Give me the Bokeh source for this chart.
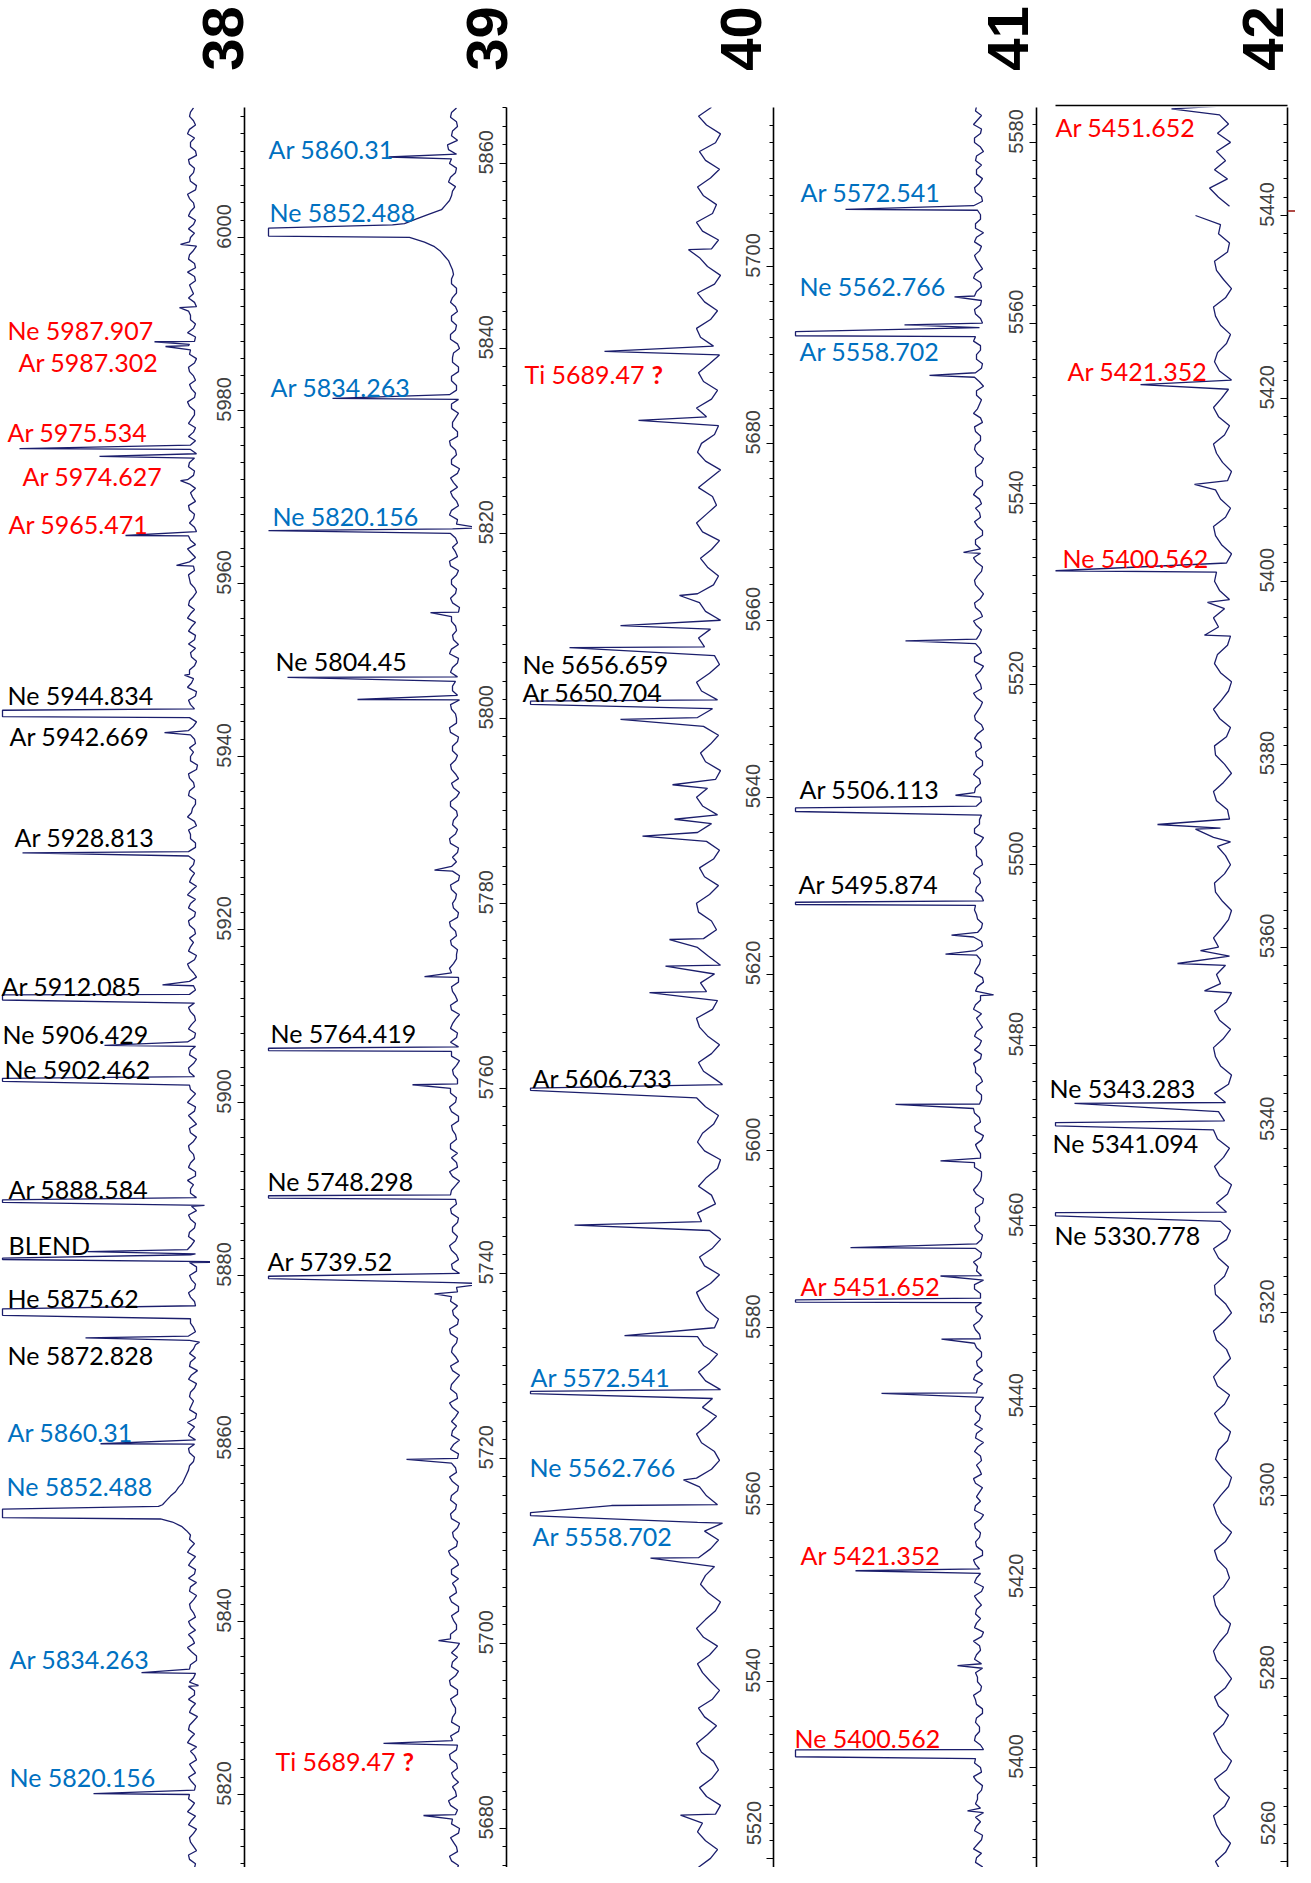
import math
import numpy as np
from bokeh.plotting import figure
from bokeh.models import (Range1d, LinearAxis, SingleIntervalTicker, ColumnDataSource, Span,
                          PrintfTickFormatter)
from bokeh.layouts import row, column
from bokeh.embed import file_html
from bokeh.resources import INLINE
from bokeh.core.properties import value

NAN = float("nan")

# ======================= DATA =======================
orders = ["38", "39", "40", "41", "42"]
wl_top = [6015.03, 5866.05, 5717.98, 5583.88, 5451.81]
wl_bottom = [5811.56, 5675.78, 5518.97, 5388.93, 5259.34]
grid_start = [5811, 5675, 5518, 5388, 5259]   # samples on whole Angstroms
half_start = [5811.5, 5675.5, None, 5388.5, None]   # extra samples on half Angstroms

# order 38 : 5811 .. 6015
flux_38 = [2,-3,4,-1,3,-4,1,5,-2,3, -3,4,0,-4,2,5,-2,3,-5,1, 4,-2,3,-3,2,-4,5,0,-3,4,
           -1,3,-4,2,4,-3,1,5,-2,2, 11,190,190,26,17,10,6,3,-2,4, -3,2,5,-4,1,3,-2,4,-5,2,
           3,-3,4,-1,2,190,-2,4,-3,3, -4,190,5,-2,3,-3,4,1,-4,2, 5,-3,2,-1,4,-4,3,0,-2,5,
           -3,3,-2,4,-4,2,5,-3,1,-2, 4,190,-3,3,-1,5,-4,2,3,-2, 4,-3,2,5,-4,1,3,-2,4,-3,
           2,-4,5,0,-3,3,-1,4,-5,2, 3,-2,4,-4,190,2,-3,5,-1,3, -4,2,4,-3,1,5,-2,3,-4,2,
           4,-1,-3,5,2,-4,3,-2,4,0, -3,5,-2,3,-4,2,4,-3,1,-2, 5,-3,3,-1,4,-4,2,-2,5,-3,
           2,-4,4,1,-3,5,-2,3,-4,2, 4,-3,2,-1,5,-4,3,-2,4,-3, 2,5,-3,3,-1]
half_38 = [-2,3,-4,2,-1,4,-3,1,4,-2, 1,-3,3,-2,-4,2,4,-1,3,-3, -2,4,-1,3,-4,1,-2,4,2,-3,
           2,-1,3,-4,-2,4,-3,2,3,6, 20,190,30,22,14,8,4,-1,3,-2, 4,-2,-3,3,-1,2,-4,1,3,-3,
           -1,3,-3,2,190,-3,2,-2,1,-4, 3,-3,1,4,-2,2,-4,190,2,-1, -3,4,-2,3,-1,2,-4,4,-3,1,
           2,190,3,-1,3,-3,-2,4,-3,2, -2,3,-1,-4,3,-2,4,-1,-3,3, -2,4,-3,1,3,-2,-1,4,-3,2,
           4,-2,1,-3,4,-2,3,-4,2,-1, -3,2,-1,3,-2,4,-4,1,3,-2, 1,-3,-2,4,-3,2,4,-1,-2,3,
           -2,3,1,-3,4,-2,-1,3,-3,2, 3,-1,4,-2,2,-3,-1,4,-2,3, -2,1,-3,3,-2,3,4,-3,-1,2,
           4,-2,-1,3,-2,-3,4,-1,3,-2, -1,4,-2,3,-3,2,-1,3,-4,2, -2,3,-1,2]
peak_wl_38 = [5999.2, 5991.9, 5987.95, 5987.65, 5987.4, 5975.6, 5974.7, 5971.9, 5965.55, 5962.1,
              5949.4, 5945.35, 5944.6, 5942.75, 5928.85, 5913.6, 5912.45, 5911.85, 5906.6,
              5902.8, 5902.45, 5888.75, 5888.45, 5888.1, 5882.75, 5882.4, 5881.85, 5881.55,
              5876.15, 5875.4, 5872.8, 5872.3, 5860.55, 5853.3, 5851.85, 5834.1, 5832.6, 5820.1]
peak_fl_38 = [12, 13, 38, 3, 27, 173, 93, 12, 67, 16,
              8, 190, 190, 28, 170, 30, 190, 190, 88,
              190, 190, 190, 190, -12, 105, 2, 190, -60,
              190, 190, 107, -7, 92, 34, 32, 51, -6, 99]

# order 39 : 5675 .. 5866
flux_39 = [3,-4,5,-2,4,-5,2,-3,6,-1, -4,3,-2,5,-3,4,-5,2,-1,4, -3,5,-4,2,3,-5,4,-2,3,-4,
           5,-1,-4,3,-2,6,-3,2,-5,4, -2,3,-4,5,-1,-3,4,-5,2,3, -4,5,-2,3,-5,4,-1,2,-3,5,
           -4,2,4,-3,1,-5,3,-2,5,-3, 2,-4,4,-1,3,-5,5,-2,-3,4, -1,3,-4,5,-2,4,-3,2,-5,3,
           4,-3,2,-5,4,-1,3,-4,5,-2, -3,4,-1,5,-4,2,-2,4,-5,3, 2,-4,5,-3,1,-2,4,-5,3,-1,
           4,-3,2,-4,5,-2,3,-5,2,-1, 4,-3,5,-4,2,-1,3,-5,4,-2, 3,-4,5,-1,-3,4,-2,5,-4,2,
           -3,4,-5,3,-1,5,-3,2,-4,3, 5,-2,3,-4,2,-5,4,-1,3,-3, 4,-2,3,1,4,10,20,45,186,38,
           13,5,2,6,-1,5,-2,7,3,-3, 4,-2]
half_39 = [-2,3,-3,1,-4,3,-1,4,-2,2, 1,-3,4,-2,2,-4,3,-1,2,-3, 4,-1,3,-3,-2,4,-2,1,-4,3,
           -2,2,3,-4,4,-2,1,-3,3,-1, 4,-3,2,-2,3,-4,1,3,-2,-1, 2,-3,4,-1,2,-4,3,-2,4,-3,
           1,-3,3,-2,186,2,-4,3,-1,2, -3,3,-2,4,-1,2,-3,3,4,-2, 2,-4,3,-1,4,-3,1,-2,3,-4,
           -2,4,-1,3,-3,2,-4,3,1,-2, 3,-2,4,-3,1,-1,3,-4,2,-2, -3,4,-1,2,-3,4,-2,1,-4,3,
           -1,2,-3,4,-2,-1,4,-3,2,-3, 2,-4,3,1,-2,3,-4,2,-1,3, -2,4,-3,2,-1,2,-3,3,-2,4,
           1,-3,3,-2,4,-3,2,-1,3,-4, -2,3,-4,2,1,-3,4,-2,3,-1, 2,-2,3,2,6,14,30,186,50,26,
           9,3,-1,4,-2,3,6,-3,2,-2, 3]
peak_wl_39 = [5860.7, 5853.35, 5852.15, 5834.6, 5820.6, 5820.3, 5811.45, 5804.45, 5802.05,
              5783.6, 5772.1, 5764.35, 5764.1, 5760.4, 5748.4, 5748.15, 5739.7, 5739.45,
              5738.9, 5737.8, 5719.9, 5700.3, 5689.2, 5681.4]
peak_fl_39 = [66, 62, 186, 122, -26, 186, 24, 167, 97,
              20, 30, 186, 186, 42, 186, 186, 186, 186,
              -30, 20, 48, 16, 71, 31]

# order 40 : 5518 .. 5718
flux_40 = [4,10,-2,-9,3,11,6,-7,-12,2, 9,-3,-10,-5,7,12,1,-8,4,10, -4,-11,-2,6,11,-1,-9,5,12,3,
           -7,-12,0,8,3,-6,10,-2,-10,4, 11,178,-9,2,9,12,-3,-11,-6,7, 12,1,-8,6,-4,-12,3,10,-1,-9,
           5,11,-6,-10,2,8,12,-2,-11,4, 9,-4,-12,-1,7,11,-7,-3,10,2, -9,-12,4,11,6,-5,-10,3,12,178,
           -8,5,10,-3,-11,1,9,12,-4,-9, 2,8,-6,-12,0,11,5,-8,-3,10, 12,-1,-10,4,9,-5,-11,2,11,-3,
           -9,6,12,1,-7,-12,3,8,-2,-10, 5,11,-4,-9,7,12,-1,-11,-6,4, 10,-2,-12,3,9,11,-5,-10,1,8,
           -3,-11,6,12,2,-8,-4,10,-1,-12, 3,11,7,-6,-10,2,12,-3,-9,5, 10,-1,-11,-5,8,12,-2,-9,4,11,
           -6,-12,1,9,-3,-10,6,12,-4,-8, 5,11,-2,-11,3,9,-7,-12,2,10, -3]
half_40 = []
peak_wl_40 = [5701.9, 5690.4, 5682.6, 5662.8, 5659.4, 5656.9, 5650.85, 5650.5, 5648.8,
              5641.4, 5637.5, 5635.6, 5623.9, 5620.9, 5617.9, 5607.5, 5607.1, 5606.85,
              5591.6, 5579.1, 5572.8, 5572.55, 5562.8, 5559.9, 5559.1, 5558.75, 5557.9,
              5553.95, 5524.9]
peak_fl_40 = [20, 104, 70, 29, 88, 139, 178, 178, 88,
              36, 34, 66, 39, 43, 59, -14, 178, 178,
              134, 84, 178, 178, 25, 97, 178, 178, -14,
              58, 28]

# order 41 : 5388 .. 5584
flux_41 = [3,-4,2,5,-3,4,-2,-5,3,1, -4,5,-2,3,-5,4,-1,3,-4,2, 5,-3,1,-4,4,-2,5,-5,2,3,
           -3,4,-5,2,-1,5,-4,3,-2,4, -5,3,2,-4,5,-1,-3,4,-5,2, 4,-2,3,-5,1,5,-4,2,-3,4,
           -1,5,-4,3,-2,4,-5,2,5,-3, 2,-4,4,-1,3,-5,5,-2,-3,4, -2,3,-5,4,-1,5,-3,2,-4,3,
           5,-3,-1,4,-4,2,5,-2,3,-5, 4,-1,2,-4,5,-3,1,4,-5,3, -2,5,-4,2,3,-5,4,-1,183,-3,
           4,-2,5,-4,2,-3,4,-5,3,1, -4,5,-2,3,-5,4,-1,2,-3,5, -2,4,-5,3,1,-4,5,-2,3,-4,
           4,-1,-3,5,-4,2,3,-5,4,-2, 3,-4,5,-1,2,-5,4,-3,2,-2, 5,183,-4,3,-2,4,-3,5,-4,2,
           -1,4,-5,3,-2,5,-3,4,-4,2, 3,-5,4,-2,5,-3,2]
half_41 = [-2,3,-3,1,-4,2,3,-2,1,-3, 2,-3,4,183,-2,3,-1,2,-4,3, -2,1,3,-3,2,-1,-3,4,-2,2,
           1,-3,4,-2,3,-4,2,-1,3,-2, 4,-2,-1,3,-3,2,-2,1,3,-4, -1,3,-2,2,-4,3,1,-3,2,-2,
           3,-1,2,-3,-2,4,-3,1,-2,3, -3,2,-1,3,-4,2,1,-3,4,-2, 1,-3,3,-2,4,-1,-3,2,-2,3,
           -2,4,-3,2,-1,-3,3,-2,1,-4, 2,-2,3,-3,1,-4,2,3,-3,2, -1,3,-3,2,-2,4,-1,-3,2,-2,
           3,-1,2,-4,3,-2,1,-3,4,-2, 2,-3,1,-2,4,-3,3,-1,2,-4, 3,-2,-1,4,-3,2,-2,3,-4,1,
           -2,3,-1,2,-4,3,-3,1,3,-2, 4,-2,1,-3,2,-1,3,-4,2,-2, 3,-1,-2,4,-3,2,-2,3,-1,4,
           -3,2,3,-2,1,-4,3,-1,2,-3, 2,-2,4,-3,1,3]
peak_wl_41 = [5572.6, 5562.9, 5559.8, 5559.05, 5558.6, 5554.2, 5534.6, 5524.8, 5507.7,
              5506.3, 5505.9, 5495.85, 5495.6, 5492.2, 5490.1, 5485.6, 5473.45, 5467.2,
              5457.6, 5454.45, 5451.8, 5451.55, 5447.45, 5441.45, 5421.8, 5411.3, 5401.95,
              5401.2, 5395.2]
peak_fl_41 = [133, 24, 74, 183, 183, 49, 15, 73, 23,
              183, 183, 183, 183, 27, 33, -15, 83, 38,
              128, 38, 183, 183, 37, 97, 123, 21, 183,
              183, 11]
red_mark_wl_41 = 5570.8

# order 42 : 5259 .. 5452
flux_42 = [2,7,-3,-8,1,6,9,-2,-7,3, 8,-4,-9,0,5,9,-1,-6,4,8, -3,-9,-2,6,9,3,-5,-8,2,7,
           9,-1,-7,-4,5,8,-3,-9,1,6, 9,2,-6,-9,0,7,4,-5,-8,3, 8,-2,-7,5,9,1,-8,-4,6,9,
           -1,-9,-3,7,8,-2,-6,4,9,-4, -8,2,-4,6,-5,-9,3,8,-1,-7, 5,9,-2,4,-3,8,-6,-9,2,7,
           9,-1,-8,3,8,-4,-9,2,6,-3, -7,4,9,1,-6,-9,0,7,8,-2, -8,-3,5,9,2,-7,-5,6,9,-1,
           -9,-2,7,8,-4,-8,3,9,1,-6, -9,2,8,5,-5,-8,4,9,-2,-7, 3,8,6,-4,-9,1,7,9,-3,-8,
           2,7,-5,-9,0,6,9,-2,-7,4, 9,1,-6,-9,3,8,5,-4,-8,2, 7,9,-3,-9,-1,6,8,-5,-7,4,
           2,27,-7,4,13,-5,8,-3,6,-8, 5,-6,3,-4]
half_42 = []
peak_wl_42 = [5451.65, 5440.5, 5421.5, 5410.6, 5401.15, 5397.7, 5394.1, 5373.4, 5372.9,
              5371.5, 5359.6, 5358.2, 5355.2, 5342.9, 5340.8, 5340.45, 5330.95, 5330.6]
peak_fl_42 = [51, NAN, 82, 28, 167, 15, 18, 65, 27,
              -8, 22, 45, 18, 148, 167, 167, 167, 167]
red_mark_wl_42 = 5440.5

# line identifications (kind: plain / overlap / flag / flagmark)
ids_38 = ["Ne 5987.907", "Ar 5987.302", "Ar 5975.534", "Ar 5974.627", "Ar 5965.471",
          "Ne 5944.834", "Ar 5942.669", "Ar 5928.813", "Ar 5912.085", "Ne 5906.429",
          "Ne 5902.462", "Ar 5888.584", "BLEND", "He 5875.62", "Ne 5872.828",
          "Ar 5860.31", "Ne 5852.488", "Ar 5834.263", "Ne 5820.156"]
kind_38 = ["flag"] * 5 + ["plain"] * 10 + ["overlap"] * 4
ids_39 = ["Ar 5860.31", "Ne 5852.488", "Ar 5834.263", "Ne 5820.156", "Ne 5804.45",
          "Ne 5764.419", "Ne 5748.298", "Ar 5739.52", "Ti 5689.47", "?"]
kind_39 = ["overlap"] * 4 + ["plain"] * 4 + ["flag", "flagmark"]
ids_40 = ["Ti 5689.47", "?", "Ne 5656.659", "Ar 5650.704", "Ar 5606.733",
          "Ar 5572.541", "Ne 5562.766", "Ar 5558.702"]
kind_40 = ["flag", "flagmark", "plain", "plain", "plain", "overlap", "overlap", "overlap"]
ids_41 = ["Ar 5572.541", "Ne 5562.766", "Ar 5558.702", "Ar 5506.113", "Ar 5495.874",
          "Ar 5451.652", "Ar 5421.352", "Ne 5400.562"]
kind_41 = ["overlap"] * 3 + ["plain"] * 2 + ["flag"] * 3
ids_42 = ["Ar 5451.652", "Ar 5421.352", "Ne 5400.562", "Ne 5343.283", "Ne 5341.094", "Ne 5330.778"]
kind_42 = ["flag"] * 3 + ["plain"] * 3

# ======================= LAYOUT (page pixels) =======================
PAGE = 8
FRAME_TOP = 115
FRAME_BOTTOM = 1875
FRAME_H = FRAME_BOTTOM - FRAME_TOP
frame_left = [8, 252, 514, 781, 1044]
frame_right = [218, 480, 747, 1010, 1261]
end_frame = (1295, 1303)
base_x = [200, 462, 716, 986, 1230]          # continuum position of each spectrum

lab_x_38 = [15, 26, 15, 30, 16, 15, 17, 22, 9, 10, 12, 16, 16, 15, 15, 15, 14, 17, 17]
lab_y_38 = [337, 369, 439, 483, 531, 702, 743, 844, 993, 1041, 1076, 1196, 1252, 1305, 1362,
            1439, 1493, 1666, 1784]
lab_x_39 = [276, 277, 278, 280, 283, 278, 275, 275, 283, 410]
lab_y_39 = [156, 219, 394, 523, 668, 1040, 1188, 1268, 1768, 1768]
lab_x_40 = [532, 659, 530, 530, 540, 538, 537, 540]
lab_y_40 = [381, 381, 671, 699, 1085, 1384, 1474, 1543]
lab_x_41 = [808, 807, 807, 807, 806, 808, 808, 802]
lab_y_41 = [199, 293, 358, 796, 891, 1293, 1562, 1745]
lab_x_42 = [1063, 1075, 1070, 1057, 1060, 1062]
lab_y_42 = [134, 378, 565, 1095, 1150, 1242]

title_x = [230, 494, 748, 1015, 1270]
title_y = 46

KIND_COLOR = {"plain": "#000000", "overlap": "#0070C0", "flag": "#FF0000", "flagmark": "#FF0000"}
SPEC_COLOR = "#1b1e6c"
MARK_COLOR = "#b04a45"

panels = [
    (flux_38, half_38, peak_wl_38, peak_fl_38, ids_38, kind_38, lab_x_38, lab_y_38),
    (flux_39, half_39, peak_wl_39, peak_fl_39, ids_39, kind_39, lab_x_39, lab_y_39),
    (flux_40, half_40, peak_wl_40, peak_fl_40, ids_40, kind_40, lab_x_40, lab_y_40),
    (flux_41, half_41, peak_wl_41, peak_fl_41, ids_41, kind_41, lab_x_41, lab_y_41),
    (flux_42, half_42, peak_wl_42, peak_fl_42, ids_42, kind_42, lab_x_42, lab_y_42),
]


def wl_at(i, y_px):
    return wl_top[i] - (y_px - FRAME_TOP) * (wl_top[i] - wl_bottom[i]) / FRAME_H


def make_axis(rng_name):
    ax = LinearAxis(y_range_name=rng_name,
                    ticker=SingleIntervalTicker(interval=20, num_minor_ticks=10),
                    formatter=PrintfTickFormatter(format="\u00a0\u00a0\u00a0\u00a0%d"))
    ax.axis_line_color = "black"
    ax.axis_line_width = 1.6
    ax.major_tick_line_color = "black"
    ax.major_tick_line_width = 1.2
    ax.minor_tick_line_color = "black"
    ax.major_tick_out = 7
    ax.major_tick_in = 0
    ax.minor_tick_out = 4
    ax.minor_tick_in = 0
    ax.major_label_orientation = "vertical"
    ax.major_label_standoff = 2
    ax.major_label_text_font = "Liberation Sans"
    ax.major_label_text_font_size = "20px"
    ax.major_label_text_color = "#404040"
    return ax


figs = []
n = len(orders)
for i in range(n + 1):
    if i < n:
        canvas_left = frame_left[0] if i == 0 else frame_right[i - 1]
        fl, fr, bx = frame_left[i], frame_right[i], base_x[i]
        ri = i
    else:
        canvas_left = frame_right[n - 1]
        fl, fr = end_frame
        bx = fr
        ri = n - 1
    p = figure(width=fr - canvas_left, height=FRAME_H,
               x_range=Range1d(bx - fl, bx - fr),
               y_range=Range1d(wl_bottom[ri], wl_top[ri]),
               x_axis_location=None, y_axis_location=None,
               toolbar_location=None, output_backend="svg",
               min_border_left=fl - canvas_left, min_border_right=0,
               min_border_top=0, min_border_bottom=0,
               outline_line_color=None, background_fill_color="white",
               border_fill_color="white")
    p.grid.visible = False

    if i < n:
        flux, half, pwl, pfl, ids, kinds, lx, ly = panels[i]
        gwl = grid_start[i] + np.arange(len(flux), dtype=float)
        hwl = (half_start[i] + np.arange(len(half), dtype=float)) if half else np.array([])
        wl = np.concatenate([gwl, hwl, np.array(pwl, dtype=float)])
        fx = np.concatenate([np.array(flux, dtype=float), np.array(half, dtype=float),
                             np.array(pfl, dtype=float)])
        order = np.argsort(-wl, kind="stable")
        p.line(x=fx[order], y=wl[order], line_color=SPEC_COLOR, line_width=1.3)

        normal = [k for k in range(len(ids)) if kinds[k] != "flagmark"]
        src = ColumnDataSource(dict(
            x=[bx - lx[k] for k in normal],
            y=[wl_at(i, ly[k]) for k in normal],
            text=[ids[k] for k in normal],
            color=[KIND_COLOR[kinds[k]] for k in normal]))
        p.text(x="x", y="y", text="text", text_color="color", source=src,
               text_font=value("Lato"), text_font_size="25px",
               text_baseline="middle", text_align="left")
        marks = [k for k in range(len(ids)) if kinds[k] == "flagmark"]
        if marks:
            msrc = ColumnDataSource(dict(
                x=[bx - lx[k] for k in marks],
                y=[wl_at(i, ly[k]) for k in marks],
                text=[ids[k] for k in marks]))
            p.text(x="x", y="y", text="text", source=msrc, text_color=KIND_COLOR["flagmark"],
                   text_font=value("Lato"), text_font_style="bold", text_font_size="25px",
                   text_baseline="middle", text_align="left")

    if i >= 1:
        p.extra_y_ranges = {"prev": Range1d(wl_bottom[i - 1], wl_top[i - 1])}
        p.add_layout(make_axis("prev"), "left")
    if i == n - 1:
        # short red marker just inside the order-42 frame at the 41/42 overlap point
        p.add_layout(Span(location=red_mark_wl_41, dimension="width", y_range_name="prev",
                          line_color=MARK_COLOR, line_width=1.5, line_alpha=0.0))
    if i == n:
        p.add_layout(Span(location=red_mark_wl_42, dimension="width",
                          line_color=MARK_COLOR, line_width=2))
    figs.append(p)

# title strip with the order numbers
TW = sum(f.width for f in figs)
TH = FRAME_TOP - PAGE
tf = figure(width=TW, height=TH, x_range=Range1d(0, TW), y_range=Range1d(0, TH),
            x_axis_location=None, y_axis_location=None, toolbar_location=None,
            output_backend="svg", min_border=0, outline_line_color=None,
            background_fill_color="white", border_fill_color="white")
tf.grid.visible = False
tf.text(x=[t - PAGE for t in title_x], y=[TH - (title_y - PAGE)] * n, text=orders,
        angle=math.pi / 2, text_font=value("Liberation Sans"), text_font_style="bold",
        text_font_size="58px", text_align="center", text_baseline="middle",
        text_color="black")
# top edge of the order-42 box
tf.segment(x0=[1063 - PAGE], y0=[TH - (113 - PAGE)], x1=[1295 - PAGE], y1=[TH - (113 - PAGE)],
           line_color="black", line_width=1.6)

layout = column(tf, row(*figs, spacing=0), spacing=0)
open("out.html", "w").write(file_html(layout, INLINE, title="Echelle orders 38-42"))
